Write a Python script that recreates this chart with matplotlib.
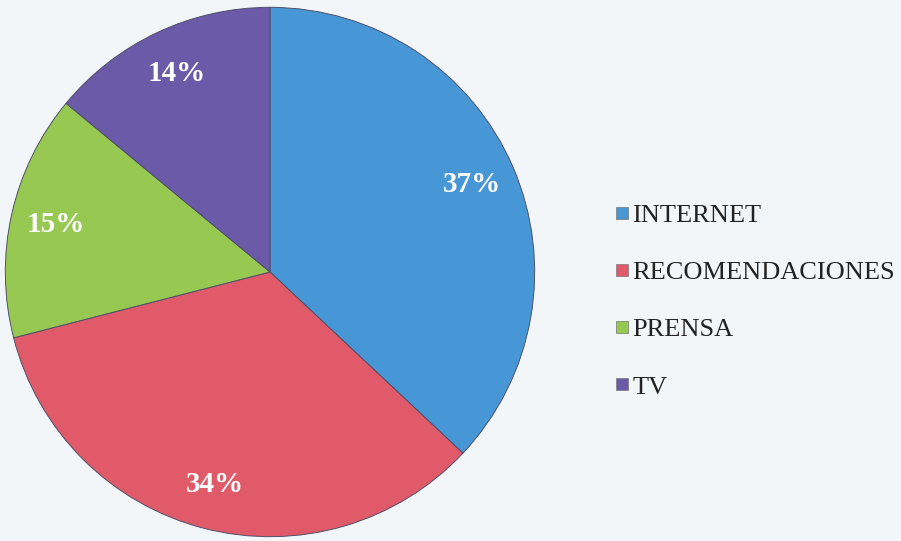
import matplotlib.pyplot as plt
from matplotlib.lines import Line2D

# data
labels = ['INTERNET', 'RECOMENDACIONES', 'PRENSA', 'TV']
values = [37, 34, 15, 14]
colors = ['#4796d6', '#e05a6a', '#97c852', '#6a5aa8']

fig = plt.figure(figsize=(9.01, 5.41), dpi=100)
fig.patch.set_facecolor('#f3f6f9')

# pie axes on the left, centred on the big circle
ax = fig.add_axes([4 / 901, 3 / 541, 532 / 901, 532 / 541])
wedges, texts, autotexts = ax.pie(
    values, colors=colors, startangle=90, counterclock=False,
    autopct='%d%%', pctdistance=0.83, radius=1.0,
    wedgeprops=dict(edgecolor='#50506a', linewidth=0.7))
for t in autotexts:
    t.set_color('white')
    t.set_fontsize(21)
    t.set_fontweight('bold')
    t.set_family('Liberation Serif')
ax.set_xlim(-1.005, 1.005)
ax.set_ylim(-1.005, 1.005)
ax.set_aspect('equal')
ax.axis('off')

# legend with small square markers
handles = [Line2D([0], [0], marker='s', linestyle='', markersize=8,
                  markerfacecolor=c, markeredgecolor='#777777', markeredgewidth=0.5)
           for c in colors]
leg = fig.legend(handles, labels, loc='center left',
                 bbox_to_anchor=(602 / 901, 1 - 301 / 541),
                 frameon=False, handlelength=0.5, handletextpad=0.15,
                 labelspacing=1.28, borderpad=0,
                 prop={'family': 'Liberation Serif', 'size': 19})
for t in leg.get_texts():
    t.set_color('#222222')

fig.savefig('out.png', dpi=100, facecolor=fig.get_facecolor())
